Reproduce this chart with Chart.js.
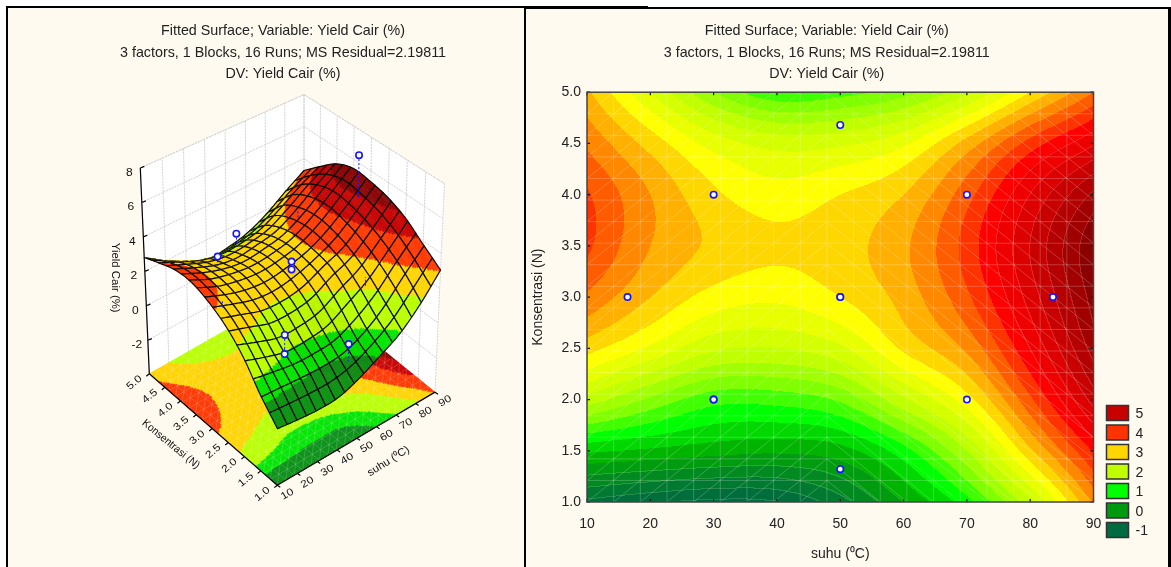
<!DOCTYPE html>
<html><head><meta charset="utf-8">
<style>
html,body{margin:0;padding:0;background:#fff;width:1171px;height:567px;overflow:hidden}
.panel{position:absolute;background:#fffaf0;overflow:hidden;box-sizing:border-box;border:solid #000}
#pL{left:6px;top:6px;width:520px;height:561px;border-width:2px 2px 0 2px}
#pR{left:524px;top:7px;width:647px;height:560px;border-width:2px 3px 0 2px}
#bar{position:absolute;left:526px;top:6px;width:122px;height:1px;background:#000}
canvas{position:absolute;display:block}
#cL{left:0;top:0}
#cR{left:-40px;top:0}
</style>
<script src="https://cdn.jsdelivr.net/npm/chart.js@4"></script>
</head><body>
<div class="panel" id="pL"><canvas id="cL" width="550" height="559"></canvas></div>
<div class="panel" id="pR"><canvas id="cR" width="685" height="558"></canvas></div>
<div id="bar"></div>
<script>
// ---------- data ----------
const titleLines = ["Fitted Surface; Variable: Yield Cair (%)","3 factors, 1 Blocks, 16 Runs; MS Residual=2.19811","DV: Yield Cair (%)"];
const suhuGrid = [10,20,30,40,50,60,70,80,90];
const konsGrid = [1,1.5,2,2.5,3,3.5,4,4.5,5];
// fitted yield per konsentrasi row, one value per suhu column
const row10 = [-0.8,-0.95,-1.05,-1.0,-0.6,0.0,0.65,1.7,3.05];
const row15 = [0.3,0.2,0.1,0.05,0.15,0.65,1.5,2.7,3.8];
const row20 = [1.65,1.2,0.85,0.85,1.05,1.7,2.4,3.45,4.6];
const row25 = [2.6,2.2,1.8,1.75,1.95,2.55,3.05,4.0,5.1];
const row30 = [3.2,2.75,2.4,2.3,2.5,2.85,3.45,4.35,5.35];
const row35 = [3.55,3.0,2.7,2.55,2.65,2.95,3.6,4.5,5.45];
const row40 = [3.53,3.0,2.55,2.35,2.5,2.75,3.4,4.25,5.05];
const row45 = [3.2,2.65,2.15,1.9,1.95,2.2,2.85,3.6,4.2];
const row50 = [2.8,2.0,1.25,0.8,0.9,1.15,1.7,2.5,3.25];
const surfaceRows = [row10,row15,row20,row25,row30,row35,row40,row45,row50];
// design points
const pointSuhu = [83.6,50,30,50,50,30,30,50,16.4,70,70];
const pointKons = [3,4.68,4,3,3,2,2,1.32,3,2,4];
const pointYield = [7.3,2.25,3.1,3.05,2.6,1.6,0.52,0.85,2.5,1.9,3.0];
// legend
const legendLabels = ["5","4","3","2","1","0","-1"];
const legendColors = ["#c80000","#ff3300","#ffd700","#c0ff00","#00ff00","#009a10","#006a40"];
// contour bands (lower bound, colour)
const bandLevels = [-1.25,-1,-0.75,-0.5,-0.25,0,0.25,0.5,0.75,1,1.25,1.5,1.75,2,2.25,2.5,2.75,3,3.25,3.5,3.75,4,4.25,4.5,4.75,5,5.25];
const bandColors = ["#006a40","#006e3a","#007a30","#008a20","#009c10","#00b400","#00d800","#00ff00","#40ff00","#80ff00","#a0ff00","#c0ff00","#d4ff00","#e8ff00","#ffff00","#ffd700","#ffb000","#ff8800","#ff5c00","#ff3300","#ff0000","#ee0000","#dc0000","#c80000","#b40000","#a00000","#8b0000"];
const bandBelow = "#006040";
// coarse bands of the 3D view
const coarseLevels = [0,0.75,2,3,4,4.8];
const coarseColors = ["#0a9018","#00e400","#b8ff00","#ffd400","#ff3800","#c80000","#8b0000"];
const zTicks = [8,6,4,2,0,-2];
const suhuTicks = [10,20,30,40,50,60,70,80,90];
const konsTicks = [1,1.5,2,2.5,3,3.5,4,4.5,5];

// ---------- surface lookup ----------
function cr(a,b,c,d,t){return 0.5*((2*b)+(-a+c)*t+(2*a-5*b+4*c-d)*t*t+(-a+3*b-3*c+d)*t*t*t);}
function at(j,i){
  const J=Math.max(-1,Math.min(9,j)),I=Math.max(-1,Math.min(9,i));
  const jj=Math.max(0,Math.min(8,J)),ii=Math.max(0,Math.min(8,I));
  let v=surfaceRows[jj][ii];
  if(I<0) v=2*surfaceRows[jj][0]-surfaceRows[jj][1];
  if(I>8) v=2*surfaceRows[jj][8]-surfaceRows[jj][7];
  if(J<0) v+=surfaceRows[0][ii]-surfaceRows[1][ii];
  if(J>8) v+=surfaceRows[8][ii]-surfaceRows[7][ii];
  return v;
}
function yieldAt(T,C){
  const x=Math.max(0,Math.min(7.9999,(T-10)/10)),y=Math.max(0,Math.min(7.9999,(C-1)/0.5));
  const i=Math.floor(x),j=Math.floor(y),tx=x-i,ty=y-j;
  const r=[];
  for(let k=-1;k<=2;k++) r.push(cr(at(j+k,i-1),at(j+k,i),at(j+k,i+1),at(j+k,i+2),tx));
  return cr(r[0],r[1],r[2],r[3],ty);
}
function bandIndex(z,levels){let k=-1;for(let n=0;n<levels.length;n++){if(z>=levels[n])k=n;else break;}return k;}

Chart.defaults.font.family='"Liberation Sans", Arial, sans-serif';
Chart.defaults.color='#222';
Chart.defaults.animation=false;

// ---------- right: contour ----------
const meshCount=19;
const contourPlugin={id:'contour',afterLayout(ch){ch.titleBlock.left+=15;ch.titleBlock.right+=15;},beforeDatasetsDraw(ch){
  const c=ch.ctx,a=ch.chartArea,sx=ch.scales.x,sy=ch.scales.y;
  const L=Math.round(a.left),R=Math.round(a.right),Tp=Math.round(a.top),B=Math.round(a.bottom);
  const W=R-L,H=B-Tp,idx=new Int8Array(W*H);
  c.save();
  for(let py=0;py<H;py++){
    const C=sy.getValueForPixel(Tp+py+0.5);
    for(let px=0;px<W;px++){
      const T=sx.getValueForPixel(L+px+0.5);
      const k=bandIndex(yieldAt(T,C),bandLevels);
      idx[py*W+px]=k;
      c.fillStyle=k<0?bandBelow:bandColors[k];
      c.fillRect(L+px,Tp+py,1,1);
    }
  }
  // faint seams along dark and red bands
  c.fillStyle='rgba(255,255,255,0.15)';
  for(let py=0;py<H-1;py++)for(let px=0;px<W-1;px++){
    const k=idx[py*W+px];
    if((k<5||k>=20)&&(k!==idx[py*W+px+1]||k!==idx[(py+1)*W+px])) c.fillRect(L+px,Tp+py,1,1);
  }
  // triangulation mesh
  c.beginPath();c.rect(a.left,a.top,a.width,a.height);c.clip();
  c.strokeStyle='rgba(255,255,255,0.22)';c.lineWidth=1;c.beginPath();
  const gx=n=>sx.getPixelForValue(10+80*n/meshCount),gy=n=>sy.getPixelForValue(1+4*n/meshCount);
  for(let n=1;n<meshCount;n++){
    c.moveTo(gx(n),a.top);c.lineTo(gx(n),a.bottom);
    c.moveTo(a.left,gy(n));c.lineTo(a.right,gy(n));
  }
  for(let i=0;i<meshCount;i++)for(let j=0;j<meshCount;j++){
    if(i<9){c.moveTo(gx(i),gy(j));c.lineTo(gx(i+1),gy(j+1));}
    else{c.moveTo(gx(i),gy(j+1));c.lineTo(gx(i+1),gy(j));}
  }
  c.stroke();
  c.restore();
},afterDatasetsDraw(ch){
  const c=ch.ctx,a=ch.chartArea,sx=ch.scales.x,sy=ch.scales.y;
  c.save();
  c.strokeStyle='#111';c.lineWidth=1.2;c.beginPath();
  suhuTicks.forEach(t=>{const x=sx.getPixelForValue(t);c.moveTo(x,a.top);c.lineTo(x,a.top+3);c.moveTo(x,a.bottom);c.lineTo(x,a.bottom-3);});
  konsTicks.forEach(t=>{const y=sy.getPixelForValue(t);c.moveTo(a.left,y);c.lineTo(a.left+3,y);c.moveTo(a.right,y);c.lineTo(a.right-3,y);});
  c.stroke();
  c.strokeStyle='#444';c.lineWidth=1.5;c.strokeRect(a.left,a.top,a.width,a.height);
  // legend
  const lx=a.right+13, ly=a.bottom-96.5, w=22, h=15, gap=19.5;
  c.font='14px "Liberation Sans"';c.textBaseline='middle';c.textAlign='left';
  legendLabels.forEach((t,n)=>{
    c.fillStyle=legendColors[n];c.fillRect(lx,ly+n*gap,w,h);
    c.strokeStyle='#333';c.lineWidth=1.5;c.strokeRect(lx,ly+n*gap,w,h);
    c.fillStyle='#222';c.fillText(t,lx+29,ly+n*gap+9);
  });
  c.restore();
}};
new Chart(document.getElementById('cR'),{
  type:'scatter',
  data:{datasets:[{label:'Design points',data:pointSuhu.map((t,i)=>({x:t,y:pointKons[i]})),
    pointRadius:3.2,pointBorderWidth:1.6,pointBorderColor:'#1414ff',pointBackgroundColor:'#fff'}]},
  options:{responsive:false,animation:false,
    layout:{autoPadding:false,padding:{left:44,right:77.5,top:0,bottom:0}},
    plugins:{legend:{display:false},tooltip:{enabled:false},
      title:{display:true,text:titleLines,color:'#222',font:{size:14.3,weight:'normal',lineHeight:1.52},padding:{top:11,bottom:7}}},
    scales:{
      x:{type:'linear',min:10,max:90,afterFit(s){s.height=65;},
        grid:{display:false,drawTicks:false},border:{display:false},
        ticks:{stepSize:10,maxRotation:0,padding:14,font:{size:14},color:'#222'},
        title:{display:true,text:'suhu (⁰C)',font:{size:14},color:'#222',padding:{top:0,bottom:4}}},
      y:{type:'linear',min:1,max:5,afterFit(s){s.width=57;},
        grid:{display:false,drawTicks:false},border:{display:false},
        ticks:{stepSize:0.5,padding:6,font:{size:14},color:'#222',callback:v=>v.toFixed(1)},
        title:{display:true,text:'Konsentrasi (N)',font:{size:14},color:'#222',padding:{top:0,bottom:0}}}
    }},
  plugins:[contourPlugin]
});

// ---------- left: 3D surface ----------
function homography(p00,p10,p01,p11){
  const dx1=p10[0]-p11[0],dx2=p01[0]-p11[0],sx=p00[0]-p10[0]+p11[0]-p01[0];
  const dy1=p10[1]-p11[1],dy2=p01[1]-p11[1],sy=p00[1]-p10[1]+p11[1]-p01[1];
  const det=dx1*dy2-dx2*dy1,g=(sx*dy2-dx2*sy)/det,h=(dx1*sy-sx*dy1)/det;
  const a=p10[0]-p00[0]+g*p10[0],b=p01[0]-p00[0]+h*p01[0],c0=p00[0];
  const d=p10[1]-p00[1]+g*p10[1],e=p01[1]-p00[1]+h*p01[1],f=p00[1];
  return (u,v)=>{const w=g*u+h*v+1;return [(a*u+b*v+c0)/w,(d*u+e*v+f)/w];};
}
const floorMap=homography([277.3,485],[435,391.7],[149.3,373.3],[304,285]);
const topMap=homography([278,270],[444.5,182.7],[140.3,167],[304,93.3]);
const zMin=-3.95,zMax=8,surfaceCells=17;
function proj(T,C,z){
  const u=(T-10)/80,v=(C-1)/4,w=(z-zMin)/(zMax-zMin);
  const a=floorMap(u,v),b=topMap(u,v);
  return [a[0]+(b[0]-a[0])*w,a[1]+(b[1]-a[1])*w];
}
const surfacePlugin={id:'surface',beforeDatasetsDraw(ch){
  const c=ch.ctx,sx=ch.scales.x,sy=ch.scales.y;
  const P=(T,C,z)=>{const p=proj(T,C,z);return [sx.getPixelForValue(p[0]),sy.getPixelForValue(p[1])];};
  const poly=pts=>{c.beginPath();pts.forEach((p,i)=>i?c.lineTo(p[0],p[1]):c.moveTo(p[0],p[1]));c.closePath();};
  c.save();c.lineJoin='round';
  // walls
  c.fillStyle='#fff';
  poly([P(10,5,zMin),P(90,5,zMin),P(90,5,zMax),P(10,5,zMax)]);c.fill();
  poly([P(90,5,zMin),P(90,1,zMin),P(90,1,zMax),P(90,5,zMax)]);c.fill();
  c.strokeStyle='#d2d2d2';c.lineWidth=1;c.setLineDash([2,1]);c.beginPath();
  const seg=(a,b)=>{c.moveTo(a[0],a[1]);c.lineTo(b[0],b[1]);};
  suhuTicks.forEach(t=>seg(P(t,5,zMin),P(t,5,zMax)));
  konsTicks.forEach(t=>seg(P(90,t,zMin),P(90,t,zMax)));
  zTicks.forEach(z=>{seg(P(10,5,z),P(90,5,z));seg(P(90,5,z),P(90,1,z));});
  seg(P(10,5,zMax),P(90,5,zMax));seg(P(90,5,zMax),P(90,1,zMax));
  c.stroke();c.setLineDash([]);
  // floor
  const nf=130;
  for(let i=0;i<nf;i++)for(let j=0;j<nf;j++){
    const T0=10+80*i/nf,T1=10+80*(i+1)/nf,C0=1+4*j/nf,C1=1+4*(j+1)/nf;
    const k=bandIndex(yieldAt((T0+T1)/2,(C0+C1)/2),coarseLevels);
    const col=coarseColors[k+1];
    c.fillStyle=col;c.strokeStyle=col;c.lineWidth=0.6;
    poly([P(T0,C0,zMin),P(T1,C0,zMin),P(T1,C1,zMin),P(T0,C1,zMin)]);c.fill();c.stroke();
  }
  c.strokeStyle='rgba(255,255,255,0.16)';c.lineWidth=1;c.beginPath();
  const m=meshCount,tt=n=>10+80*n/m,cc=n=>1+4*n/m;
  for(let n=1;n<m;n++){seg(P(tt(n),1,zMin),P(tt(n),5,zMin));seg(P(10,cc(n),zMin),P(90,cc(n),zMin));}
  for(let i=0;i<m;i++)for(let j=0;j<m;j++){seg(P(tt(i),cc(j),zMin),P(tt(i+1),cc(j+1),zMin));}
  c.stroke();
  // axes
  c.strokeStyle='#000';c.lineWidth=1.2;c.beginPath();
  seg(P(10,1,zMin),P(10,5,zMin));seg(P(10,1,zMin),P(90,1,zMin));seg(P(10,5,zMin),P(10,5,zMax));
  konsTicks.forEach(t=>{const a=P(10,t,zMin);c.moveTo(a[0],a[1]);c.lineTo(a[0]-3,a[1]+2.4);});
  suhuTicks.forEach(t=>{const a=P(t,1,zMin);c.moveTo(a[0],a[1]);c.lineTo(a[0]+3,a[1]+2);});
  zTicks.forEach(z=>{const a=P(10,5,z);c.moveTo(a[0],a[1]);c.lineTo(a[0]+4,a[1]-1.6);});
  c.stroke();
  // surface, far cells first
  const N=surfaceCells,sub=8;
  for(let i=N-1;i>=0;i--)for(let j=N-1;j>=0;j--){
    const dT=80/N,dC=4/N,T0=10+dT*i,C0=1+dC*j;
    for(let a=0;a<sub;a++)for(let b=0;b<sub;b++){
      const t0=T0+dT*a/sub,t1=T0+dT*(a+1)/sub,k0=C0+dC*b/sub,k1=C0+dC*(b+1)/sub;
      const k=bandIndex(yieldAt((t0+t1)/2,(k0+k1)/2),coarseLevels);
      const col=coarseColors[k+1];
      c.fillStyle=col;c.strokeStyle=col;c.lineWidth=0.5;
      poly([P(t0,k0,yieldAt(t0,k0)),P(t1,k0,yieldAt(t1,k0)),P(t1,k1,yieldAt(t1,k1)),P(t0,k1,yieldAt(t0,k1))]);
      c.fill();c.stroke();
    }
    c.strokeStyle='#0c0c0c';c.lineWidth=1.2;c.beginPath();
    const edge=[];
    for(let a=0;a<=sub;a++)edge.push([T0+dT*a/sub,C0]);
    for(let b=1;b<=sub;b++)edge.push([T0+dT,C0+dC*b/sub]);
    for(let a=sub-1;a>=0;a--)edge.push([T0+dT*a/sub,C0+dC]);
    for(let b=sub-1;b>0;b--)edge.push([T0,C0+dC*b/sub]);
    edge.forEach((e,n)=>{const p=P(e[0],e[1],yieldAt(e[0],e[1]));n?c.lineTo(p[0],p[1]):c.moveTo(p[0],p[1]);});
    c.closePath();c.stroke();
  }
  // stems
  c.strokeStyle='#1414ff';c.lineWidth=1;c.setLineDash([2,2]);c.beginPath();
  pointSuhu.forEach((t,i)=>seg(P(t,pointKons[i],pointYield[i]),P(t,pointKons[i],yieldAt(t,pointKons[i]))));
  c.stroke();c.setLineDash([]);
  // axis text
  const txt=(s,p,rot,sxx,syy,size)=>{c.save();c.translate(p[0],p[1]);c.rotate(rot*Math.PI/180);c.scale(sxx,syy);c.font=size+'px "Liberation Sans"';c.textAlign='center';c.textBaseline='middle';c.fillStyle='#111';c.fillText(s,0,0);c.restore();};
  konsTicks.forEach(t=>{const a=P(10,t,zMin);txt(t.toFixed(1),[a[0]-15,a[1]+9],-40,1,0.85,12);});
  suhuTicks.forEach(t=>{const a=P(t,1,zMin);txt(String(t),[a[0]+10,a[1]+9],-30,1,0.85,12);});
  zTicks.forEach(z=>{const a=P(10,5,z);txt(String(z),[a[0]-11,a[1]+5],0,1,0.9,12);});
  const wp=(x,y)=>[sx.getPixelForValue(x),sy.getPixelForValue(y)];
  txt('Yield Cair (%)',wp(114.5,277),90,0.95,0.9,12);
  txt('Konsentrasi (N)',wp(170.8,444),39.4,0.85,0.9,12);
  txt('suhu (⁰C)',wp(388.5,461),-32,0.95,0.9,12);
  c.restore();
}};
const visible=[];
pointSuhu.forEach((t,i)=>{ if(pointYield[i]>=yieldAt(t,pointKons[i])-0.35){const p=proj(t,pointKons[i],pointYield[i]);visible.push({x:p[0],y:p[1]});} });
new Chart(document.getElementById('cL'),{
  type:'scatter',
  data:{datasets:[{label:'Observed',data:visible,pointRadius:3.2,pointBorderWidth:1.6,pointBorderColor:'#1414ff',pointBackgroundColor:'#fff'}]},
  options:{responsive:false,animation:false,
    layout:{autoPadding:false,padding:0},
    plugins:{legend:{display:false},tooltip:{enabled:false},
      title:{display:true,position:'top',text:titleLines,color:'#222',font:{size:14.3,weight:'normal',lineHeight:1.52},padding:{top:12,bottom:0}}},
    scales:{
      x:{type:'linear',display:false,min:8,max:558},
      y:{type:'linear',display:false,min:84,max:567,reverse:true}
    }},
  plugins:[surfacePlugin]
});
</script>
</body></html>
